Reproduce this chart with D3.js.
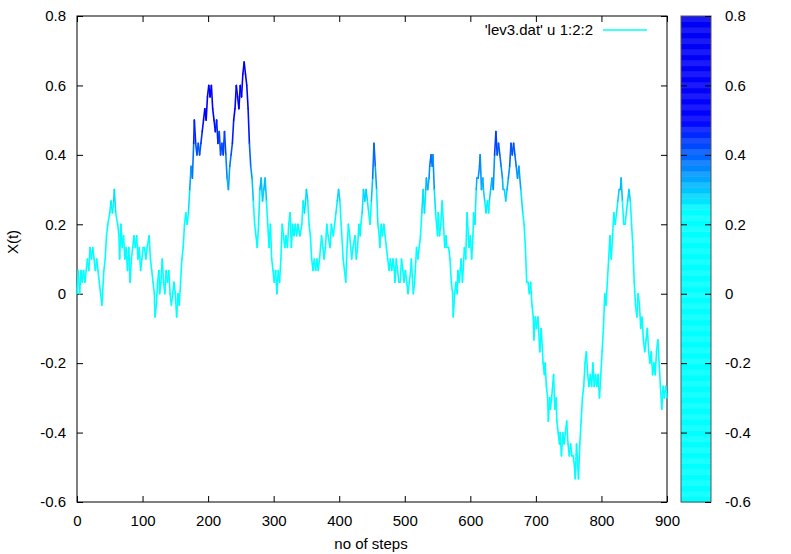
<!DOCTYPE html>
<html>
<head>
<meta charset="utf-8">
<script src="https://cdn.jsdelivr.net/npm/d3@7"></script>
<style>
  body { margin: 0; background: #fff; }
  svg { display: block; font-family: "Liberation Sans", Arial, Helvetica, sans-serif; }
  .axis path { display: none; }
  .axis line { stroke: #000; stroke-width: 1; }
  .axis text { font-size: 15px; fill: #000; font-family: "Liberation Sans", Arial, sans-serif; }
</style>
</head>
<body>
<svg id="chart" width="791" height="554"></svg>
<script>
// ---- data ----
const steps = [0,2,4,6,8,10,12,14,16,18,20,22,24,26,28,30,32,34,36,38,39,41,43,45,47,50,52,54,56,57,59,62,64,65,67,69,71,73,75,77,79,81,83,85,87,89,91,93,95,97,99,101,103,105,107,110,112,114,116,118,119,121,123,125,126,128,130,132,134,136,138,140,142,144,146,148,150,152,154,156,158,160,162,164,166,168,170,172,174,176,178,179,181,183,185,187,189,191,193,195,197,199,201,203,205,207,209,211,213,215,217,219,221,223,225,227,229,231,233,235,237,239,241,243,245,247,249,251,253,255,257,259,261,263,265,267,269,271,273,275,277,279,281,283,285,287,289,291,293,295,297,299,301,303,305,307,309,311,313,315,317,319,321,323,325,327,329,331,333,335,337,340,343,345,347,350,352,354,356,358,360,362,364,366,368,370,373,375,377,379,381,383,386,388,391,393,395,397,399,401,403,406,408,410,412,414,416,419,421,424,426,428,430,432,433,435,437,439,441,443,445,447,449,451,453,455,457,459,461,462,464,466,468,470,472,474,476,478,480,482,484,485,487,489,491,493,495,497,499,501,503,505,507,509,510,512,513,515,516,518,520,522,524,526,528,530,532,533,535,537,538,540,542,543,545,547,550,551,553,555,557,559,561,563,564,567,569,571,573,574,576,578,580,581,583,586,588,589,591,593,595,597,598,600,602,604,605,607,609,610,612,614,615,617,619,620,622,624,626,628,629,631,633,635,637,639,641,643,645,647,649,650,652,654,656,658,660,662,664,666,668,670,672,674,677,680,682,684,686,688,690,692,694,696,697,699,701,703,704,706,708,709,711,713,714,716,718,719,721,722,724,727,729,731,732,734,736,737,739,741,743,745,747,749,751,753,755,757,759,760,762,764,765,767,769,771,773,775,777,779,781,783,785,787,789,791,793,795,797,799,801,803,805,807,809,811,813,815,817,819,821,823,825,827,829,830,832,834,836,838,840,842,844,846,848,850,852,854,856,858,860,862,864,866,868,870,872,874,876,878,880,882,884,886,888,890,892,894,896,898,900];
const xt = [0,0.067,0,0.067,0.033,0.067,0.033,0.067,0.1,0.067,0.133,0.1,0.133,0.1,0.067,0.1,0.067,0.033,0,-0.033,0,0.067,0.1,0.167,0.2,0.233,0.267,0.233,0.267,0.3,0.233,0.2,0.167,0.1,0.2,0.133,0.167,0.1,0.133,0.067,0.133,0.033,0.1,0.133,0.167,0.133,0.167,0.1,0.133,0.067,0.1,0.133,0.133,0.1,0.133,0.167,0.1,0.067,0.033,0,-0.067,-0.033,0.033,0.067,0,0.033,0.1,0.033,0,0.067,0.033,0.067,0,-0.033,0,0.033,0,-0.067,0,-0.033,0.033,0.1,0.133,0.2,0.233,0.2,0.233,0.3,0.367,0.333,0.433,0.5,0.433,0.4,0.433,0.4,0.433,0.467,0.5,0.533,0.5,0.567,0.6,0.567,0.6,0.533,0.5,0.467,0.5,0.433,0.467,0.4,0.433,0.4,0.467,0.4,0.333,0.3,0.367,0.4,0.433,0.5,0.533,0.6,0.567,0.533,0.6,0.567,0.633,0.667,0.633,0.6,0.533,0.433,0.367,0.333,0.267,0.2,0.167,0.133,0.2,0.3,0.333,0.267,0.3,0.333,0.267,0.2,0.133,0.2,0.1,0.067,0.033,0.067,0,0.067,0.033,0.1,0.2,0.167,0.133,0.167,0.133,0.2,0.233,0.133,0.2,0.167,0.2,0.167,0.2,0.167,0.2,0.267,0.233,0.3,0.267,0.2,0.167,0.1,0.067,0.1,0.067,0.1,0.067,0.1,0.167,0.133,0.1,0.133,0.2,0.167,0.133,0.2,0.167,0.2,0.233,0.267,0.3,0.267,0.2,0.1,0.067,0.033,0.133,0.2,0.167,0.1,0.133,0.167,0.1,0.133,0.2,0.167,0.2,0.233,0.3,0.267,0.3,0.267,0.233,0.2,0.267,0.333,0.433,0.367,0.3,0.2,0.167,0.133,0.2,0.167,0.2,0.167,0.133,0.1,0.067,0.1,0.067,0.1,0.067,0.033,0.1,0.067,0.033,0.033,0.1,0.067,0.033,0.067,0.033,0,0.033,0.067,0.1,0.033,0,0.033,0.067,0.133,0.1,0.133,0.167,0.233,0.3,0.233,0.3,0.333,0.3,0.333,0.367,0.4,0.367,0.4,0.3,0.233,0.167,0.233,0.167,0.2,0.267,0.2,0.133,0.167,0.133,0.133,0.1,0.033,0,-0.067,0,0.033,0,0.067,0.033,0.1,0.033,0.067,0.133,0.1,0.233,0.167,0.133,0.167,0.1,0.167,0.233,0.2,0.3,0.333,0.333,0.367,0.4,0.3,0.333,0.3,0.267,0.233,0.267,0.233,0.267,0.3,0.333,0.3,0.4,0.467,0.4,0.433,0.4,0.367,0.333,0.3,0.3,0.267,0.3,0.333,0.367,0.433,0.4,0.433,0.4,0.367,0.333,0.367,0.3,0.233,0.2,0.133,0.033,0.033,0,0.033,-0.033,-0.067,-0.133,-0.067,-0.1,-0.067,-0.1,-0.167,-0.1,-0.133,-0.2,-0.233,-0.2,-0.267,-0.3,-0.367,-0.3,-0.333,-0.3,-0.233,-0.333,-0.3,-0.367,-0.4,-0.433,-0.4,-0.467,-0.4,-0.433,-0.4,-0.367,-0.433,-0.467,-0.433,-0.467,-0.467,-0.5,-0.533,-0.433,-0.5,-0.533,-0.433,-0.367,-0.3,-0.267,-0.2,-0.167,-0.233,-0.267,-0.233,-0.267,-0.2,-0.267,-0.233,-0.267,-0.233,-0.3,-0.233,-0.167,-0.1,0,-0.033,0.033,0.1,0.167,0.1,0.167,0.233,0.2,0.233,0.267,0.3,0.3,0.333,0.267,0.2,0.2,0.233,0.267,0.3,0.267,0.2,0.133,0.033,-0.033,-0.067,0,-0.033,-0.1,-0.067,-0.133,-0.167,-0.133,-0.1,-0.167,-0.2,-0.167,-0.233,-0.2,-0.233,-0.167,-0.133,-0.2,-0.267,-0.333,-0.267,-0.3,-0.267,-0.3];
const xTicks = [0,100,200,300,400,500,600,700,800,900];
const yTicks = [-0.6,-0.4,-0.2,0,0.2,0.4,0.6,0.8];
const yTickLabels = ["-0.6","-0.4","-0.2","0","0.2","0.4","0.6","0.8"];
const legendLabel = "'lev3.dat' u 1:2:2";
const xLabel = "no of steps";
const yLabel = "X(t)";
const paletteStops = [-0.6, 0.24, 0.5, 0.8];
const paletteColors = ["#00ffff", "#00ffff", "#0000ff", "#0000f4"];

// ---- layout ----
const svg = d3.select("#chart");
const L = 77, R = 667, T = 16, B = 502;
const x = d3.scaleLinear().domain([0, 900]).range([L, R]);
const y = d3.scaleLinear().domain([-0.6, 0.8]).range([B, T]);
const pal = d3.scaleLinear().domain(paletteStops).range(paletteColors).clamp(true);

// frame
svg.append("rect").attr("x", L).attr("y", T).attr("width", R - L).attr("height", B - T)
  .attr("fill", "none").attr("stroke", "#000").attr("stroke-width", 1);

// axes
const fmtY = (d) => yTickLabels[yTicks.indexOf(d)];
svg.append("g").attr("class", "axis").attr("transform", `translate(0,${B})`)
  .call(d3.axisBottom(x).tickValues(xTicks).tickSize(-6).tickPadding(13).tickFormat(d3.format("d")));
svg.append("g").attr("class", "axis").attr("transform", `translate(0,${T})`)
  .call(d3.axisTop(x).tickValues(xTicks).tickSize(-6).tickFormat(""));
svg.append("g").attr("class", "axis").attr("transform", `translate(${L},0)`)
  .call(d3.axisLeft(y).tickValues(yTicks).tickSize(-6).tickPadding(11).tickFormat(fmtY));
svg.append("g").attr("class", "axis").attr("transform", `translate(${R},0)`)
  .call(d3.axisRight(y).tickValues(yTicks).tickSize(-6).tickFormat(""));

// data line coloured by value
const pts = steps.map((s, i) => [s, xt[i]]);
const gLine = svg.append("g");
for (let i = 0; i < pts.length - 1; i++) {
  const a = pts[i], b = pts[i + 1];
  gLine.append("line")
    .attr("x1", x(a[0])).attr("y1", y(a[1]))
    .attr("x2", x(b[0])).attr("y2", y(b[1]))
    .attr("stroke", pal((a[1] + b[1]) / 2))
    .attr("stroke-width", 1.6)
    .attr("stroke-linecap", "round");
}

// legend
svg.append("text").attr("x", 593).attr("y", 35).attr("text-anchor", "end")
  .attr("font-size", 15).text(legendLabel);
svg.append("line").attr("x1", 603).attr("x2", 647).attr("y1", 30).attr("y2", 30)
  .attr("stroke", "#00ffff").attr("stroke-width", 1.6);

// colour box
const CBL = 681, CBR = 711;
const nBands = 88;
const bandVals = d3.range(nBands).map(i => -0.6 + (i + 0.5) * 1.4 / nBands);
const gCb = svg.append("g");
gCb.selectAll("rect").data(bandVals).join("rect")
  .attr("x", CBL).attr("width", CBR - CBL)
  .attr("y", (d) => y(d + 0.7 / nBands))
  .attr("height", (d) => y(d - 0.7 / nBands) - y(d + 0.7 / nBands) + 0.5)
  .attr("fill", (d, i) => i % 2 ? d3.interpolateRgb(pal(d), "#ffffff")(0.1) : pal(d));
svg.append("rect").attr("x", CBL).attr("y", T).attr("width", CBR - CBL).attr("height", B - T)
  .attr("fill", "none").attr("stroke", "#555").attr("stroke-width", 1);
const gCbAxis = svg.append("g").attr("class", "axis").attr("transform", `translate(${CBR},0)`)
  .call(d3.axisRight(y).tickValues(yTicks).tickSize(-6).tickPadding(14).tickFormat(fmtY));
gCbAxis.selectAll("line").attr("stroke", "#333");
svg.append("g").attr("class", "axis").attr("transform", `translate(${CBL},0)`)
  .call(d3.axisLeft(y).tickValues(yTicks.slice(1, -1)).tickSize(-6).tickFormat(""))
  .selectAll("line").attr("stroke", "#333");

// axis titles
svg.append("text").attr("x", 371).attr("y", 549).attr("text-anchor", "middle")
  .attr("font-size", 15).text(xLabel);
svg.append("text").attr("transform", "translate(18,242) rotate(-90)")
  .attr("text-anchor", "middle").attr("font-size", 15).text(yLabel);
</script>
</body>
</html>
